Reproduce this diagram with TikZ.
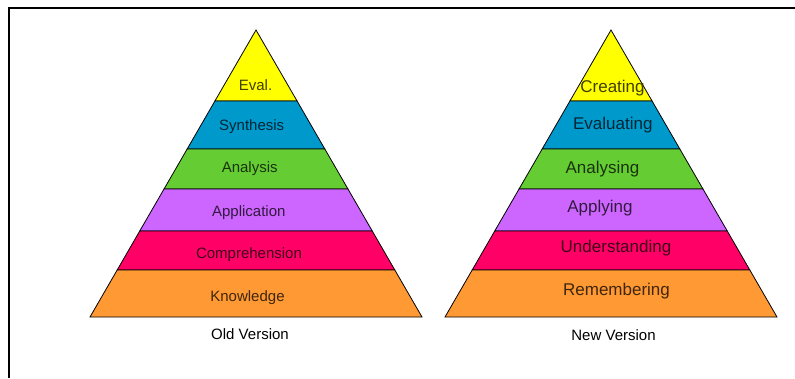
\documentclass[tikz,border=0pt]{standalone}
\usepackage{fontspec}
\setmainfont{Liberation Sans}
\usetikzlibrary{positioning}

\definecolor{tierYellow}{RGB}{255,255,0}
\definecolor{tierBlue}{RGB}{0,153,204}
\definecolor{tierGreen}{RGB}{102,204,51}
\definecolor{tierPurple}{RGB}{204,102,255}
\definecolor{tierPink}{RGB}{255,0,102}
\definecolor{tierOrange}{RGB}{255,153,51}

\tikzset{
  tier/.style={draw=black,line width=0.8pt,line join=miter},
  oldlbl/.style={font=\fontsize{15}{15}\selectfont,inner sep=0pt,anchor=base},
  newlbl/.style={font=\fontsize{17}{17}\selectfont,inner sep=0pt,anchor=base},
  caplbl/.style={font=\fontsize{15}{15}\selectfont,inner sep=0pt,anchor=base},
  frameline/.style={line width=2pt},
}

% one slice of a pyramid: apex x, top y, bottom y, colour
\newcommand\pyrslice[4]{%
  \pgfmathsetmacro\wtop{0.578397*(#2-30)}%
  \pgfmathsetmacro\wbot{0.578397*(#3-30)}%
  \path[tier,fill=#4] (#1-\wtop,#2) -- (#1+\wtop,#2) -- (#1+\wbot,#3)
    -- (#1-\wbot,#3) -- cycle;
}

\begin{document}
\begin{tikzpicture}[x=1pt,y=-1pt]
  \useasboundingbox (0,0) rectangle (795,378);
  \fill[white] (0,0) rectangle (795,378);

  % frame (top and left edges only)
  \draw[frameline] (8.5,378) -- (8.5,7.5) -- (795,7.5);

  % both pyramids, slice by slice
  \foreach \ya/\yb/\col/\oldtxt/\ox/\oy/\newtxt/\nx/\ny [count=\i] in {
      30/101/tierYellow/Eval./255.5/90/Creating/612.5/92,
      101/149/tierBlue/Synthesis/251.7/130/Evaluating/612.8/129,
      149/189/tierGreen/Analysis/249.7/172/Analysing/602.5/173,
      189/231/tierPurple/Application/248.8/216/Applying/600/212,
      231/270/tierPink/Comprehension/249/258/Understanding/616/252,
      270/317/tierOrange/Knowledge/247.5/301/Remembering/616.5/295} {
    \pyrslice{256}{\ya}{\yb}{\col}
    \pyrslice{611}{\ya}{\yb}{\col}
    \node[oldlbl,text=\col!25!black] (old-\i) at (\ox,\oy) {\oldtxt};
    \node[newlbl,text=\col!25!black] (new-\i) at (\nx,\ny) {\newtxt};
  }

  % captions
  \node[caplbl] (oldcap) at (250,339) {Old Version};
  \node[caplbl] (newcap) at (613.5,340) {New Version};
\end{tikzpicture}
\end{document}
